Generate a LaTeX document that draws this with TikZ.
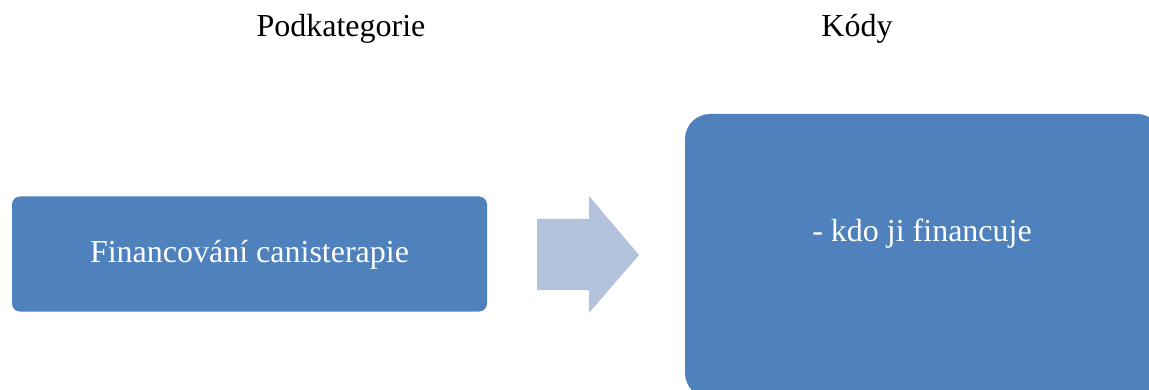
\documentclass[tikz,border=0pt]{standalone}
\usepackage{fontspec}
\setmainfont{Liberation Serif}
\definecolor{boxblue}{HTML}{4F81BD}
\definecolor{arrowblue}{HTML}{B3C2DD}
\tikzset{
  header/.style={font=\fontsize{32}{36}\selectfont, text=black, inner sep=0pt, anchor=base},
  bluebox/.style={fill=boxblue, draw=none, inner sep=0pt},
  boxtext/.style={font=\fontsize{32}{36}\selectfont, text=white, inner sep=0pt, anchor=base}
}
\begin{document}
\begin{tikzpicture}[x=1pt,y=-1pt]
\useasboundingbox (0,0) rectangle (1149,390);
\clip (0,0) rectangle (1149,390);
% headers
\node[header] (h1) at (341,37) {Podkategorie};
\node[header] (h2) at (857,37) {Kódy};
% left box
\node[bluebox, rounded corners=8pt, minimum width=475pt, minimum height=115pt] (left) at (249.5,254) {};
\node[boxtext] (lefttext) at (249.5,263) {Financování canisterapie};
% right box
\node[bluebox, rounded corners=25pt, minimum width=477pt, minimum height=284pt] (right) at (923.5,256) {};
\node[boxtext] (righttext) at (922,242) {- kdo ji financuje};
% block arrow
\coordinate (a0) at (537,255);
\fill[arrowblue] (537,219) -- (589,219) -- (589,196) -- (639,255) -- (589,313) -- (589,290) -- (537,290) -- cycle;
\end{tikzpicture}
\end{document}
